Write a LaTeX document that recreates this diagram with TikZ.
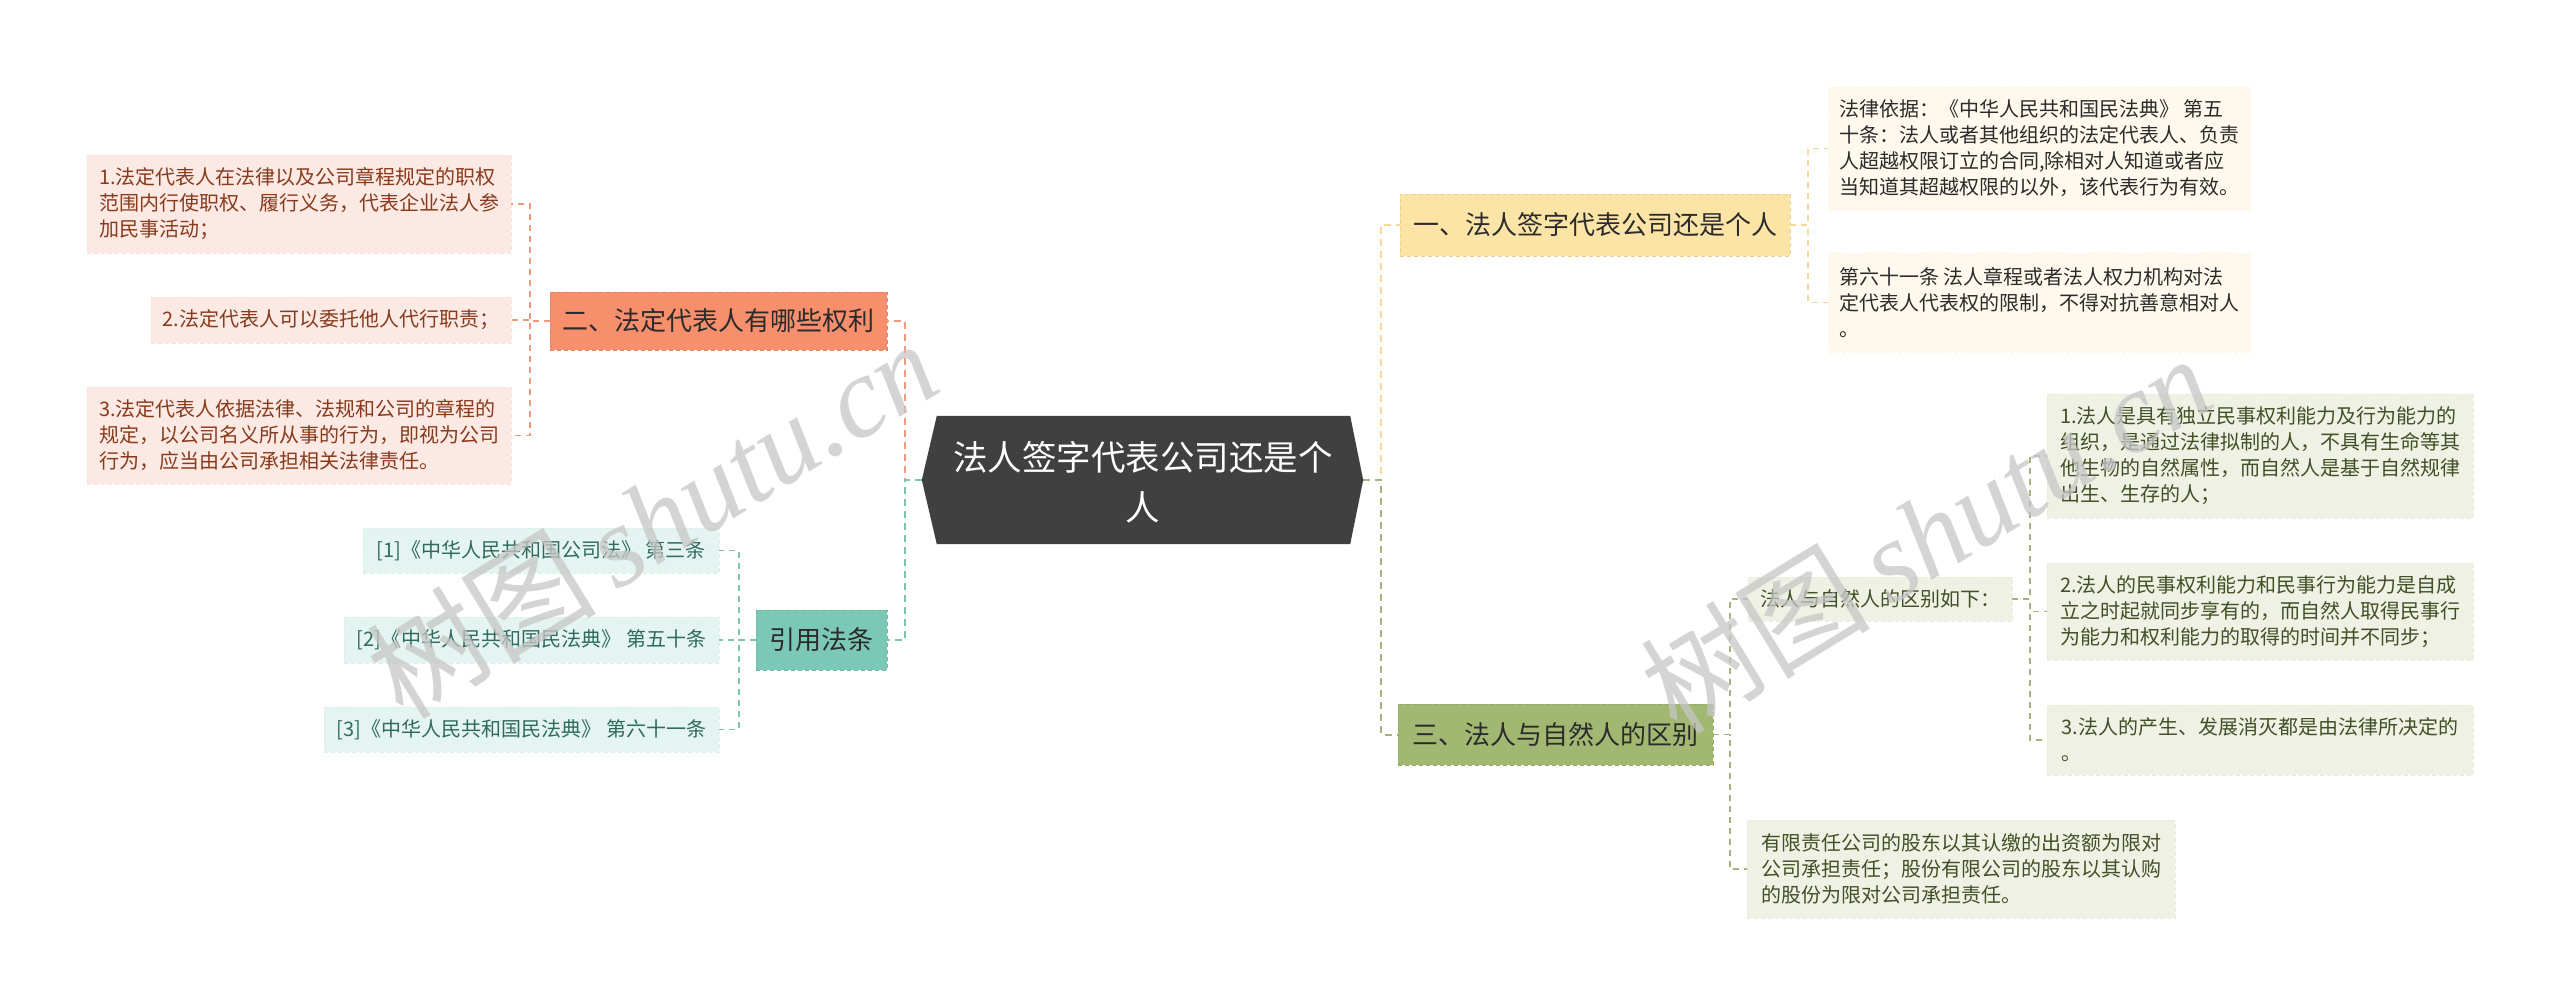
\documentclass[tikz,border=0pt]{standalone}
\usepackage{fontspec}
\setmainfont{Noto Sans CJK SC}
\newfontfamily\wmserif{Liberation Serif}
\definecolor{salmonC}{HTML}{F78E6C}
\definecolor{salmonL}{HTML}{EE9A7E}
\definecolor{pinkF}{HTML}{FDE9E3}
\definecolor{pinkT}{HTML}{873A1C}
\definecolor{tealC}{HTML}{7CC8B6}
\definecolor{tealL}{HTML}{7FC4B3}
\definecolor{tealF}{HTML}{E4F4F0}
\definecolor{tealT}{HTML}{2F6B5B}
\definecolor{yelC}{HTML}{FCE3A6}
\definecolor{yelL}{HTML}{F4D99A}
\definecolor{yelF}{HTML}{FEF9EC}
\definecolor{grnC}{HTML}{A2B872}
\definecolor{grnL}{HTML}{A3B47C}
\definecolor{grnF}{HTML}{EEF1E4}
\definecolor{grnT}{HTML}{434F26}
\definecolor{hexC}{HTML}{404040}
\definecolor{darkT}{HTML}{2B2B2B}
\begin{document}
\begin{tikzpicture}[x=1pt,y=-1pt,
  basebox/.style={inner sep=0pt, align=left, font=\fontsize{20}{26}\selectfont, line width=0.8pt, dash pattern=on 4pt off 3pt},
  mainbox/.style={inner sep=0pt, align=center, font=\fontsize{26}{32}\selectfont, text=darkT, line width=0.8pt, dash pattern=on 4pt off 3pt},
  lbox/.style={basebox, fill=pinkF, draw=pinkF!92!salmonC, text=pinkT},
  rbox/.style={basebox, fill=tealF, draw=tealF!92!tealC, text=tealT},
  ybox/.style={basebox, fill=yelF, draw=yelF!92!yelC, text=darkT},
  gbox/.style={basebox, fill=grnF, draw=grnF!92!grnC, text=grnT},
  mainlink/.style={line width=2pt, dash pattern=on 7pt off 5pt},
  sublink/.style={line width=1.4pt, dash pattern=on 6pt off 5pt},
  wmark/.style={text=gray!45, opacity=0.75, inner sep=0pt}
]
\useasboundingbox (0,0) rectangle (2560,1005);
\fill[white] (0,0) rectangle (2560,1005);

% connectors (main)
\coordinate (cl) at (905,480);
\coordinate (cr) at (1381,480);
\node[minimum width=441, minimum height=128, inner sep=0pt] (hex) at (1142.5,480) {};

\node[mainbox, fill=salmonC, draw=salmonC!92!black, minimum width=337, minimum height=58] (b2) at (718.5,321) {二、法定代表人有哪些权利};
\node[mainbox, fill=tealC, draw=tealC!92!black, minimum width=131, minimum height=60] (b4) at (821.5,640) {引用法条};
\node[mainbox, fill=yelC, draw=yelC!92!black, minimum width=390, minimum height=62] (b1) at (1595,225) {一、法人签字代表公司还是个人};
\node[mainbox, fill=grnC, draw=grnC!92!black, minimum width=315, minimum height=61] (b3) at (1555.5,734.5) {三、法人与自然人的区别};

\draw[mainlink, salmonL] (hex.west) -- (cl) |- (b2.east);
\draw[mainlink, tealL] (hex.west) -- (cl) |- (b4.east);
\draw[mainlink, yelL] (hex.east) -- (cr) |- (b1.west);
\draw[mainlink, grnL] (hex.east) -- (cr) |- (b3.west);

% hexagon
\fill[hexC] (hex.west) -- ([xshift=15pt]hex.north west) -- ([xshift=-13pt]hex.north east) -- (hex.east) -- ([xshift=-13pt]hex.south east) -- ([xshift=15pt]hex.south west) -- cycle;
\node[text=white, align=center, font=\fontsize{34.5}{50}\selectfont, inner sep=0pt] (hextxt) at (1143,482) {法人签字代表公司还是个\\人};

% left top branch
\node[lbox, minimum width=424, minimum height=98] (L1) at (299,204) {1.法定代表人在法律以及公司章程规定的职权\\范围内行使职权、履行义务，代表企业法人参\\加民事活动；};
\node[lbox, minimum width=360, minimum height=46] (L2) at (331,320) {2.法定代表人可以委托他人代行职责；};
\node[lbox, minimum width=424, minimum height=97] (L3) at (299,435.5) {3.法定代表人依据法律、法规和公司的章程的\\规定，以公司名义所从事的行为，即视为公司\\行为，应当由公司承担相关法律责任。};
\coordinate (k2) at (530,321);
\draw[sublink, salmonL] (b2.west) -- (k2) |- (L1.east);
\draw[sublink, salmonL] (b2.west) -- (k2) |- (L2.east);
\draw[sublink, salmonL] (b2.west) -- (k2) |- (L3.east);

% left bottom branch
\node[rbox, minimum width=356, minimum height=45] (R1) at (541,550.5) {[1]《中华人民共和国公司法》 第三条};
\node[rbox, minimum width=375, minimum height=46] (R2) at (531.5,640) {[2]《中华人民共和国民法典》 第五十条};
\node[rbox, minimum width=395, minimum height=45] (R3) at (521.5,729.5) {[3]《中华人民共和国民法典》 第六十一条};
\coordinate (k4) at (739,640);
\draw[sublink, tealL] (b4.west) -- (k4) |- (R1.east);
\draw[sublink, tealL] (b4.west) -- (k4) |- (R2.east);
\draw[sublink, tealL] (b4.west) -- (k4) |- (R3.east);

% right top branch
\node[ybox, minimum width=422, minimum height=123] (Y1) at (2039,148.5) {法律依据：《中华人民共和国民法典》 第五\\十条：法人或者其他组织的法定代表人、负责\\人超越权限订立的合同,除相对人知道或者应\\当知道其超越权限的以外，该代表行为有效。};
\node[ybox, minimum width=422, minimum height=99] (Y2) at (2039,302.5) {第六十一条 法人章程或者法人权力机构对法\\定代表人代表权的限制，不得对抗善意相对人\\。};
\coordinate (k1) at (1808,225);
\draw[sublink, yelL] (b1.east) -- (k1) |- (Y1.west);
\draw[sublink, yelL] (b1.east) -- (k1) |- (Y2.west);

% right bottom branch
\node[gbox, minimum width=264, minimum height=44] (D) at (1880,599) {法人与自然人的区别如下：};
\node[gbox, minimum width=428, minimum height=98] (B) at (1961,869) {有限责任公司的股东以其认缴的出资额为限对\\公司承担责任；股份有限公司的股东以其认购\\的股份为限对公司承担责任。};
\coordinate (k3) at (1730,734.5);
\draw[sublink, grnL] (b3.east) -- (k3) |- (D.west);
\draw[sublink, grnL] (b3.east) -- (k3) |- (B.west);

\node[gbox, minimum width=426, minimum height=124] (G1) at (2260,456) {1.法人是具有独立民事权利能力及行为能力的\\组织，是通过法律拟制的人，不具有生命等其\\他生物的自然属性，而自然人是基于自然规律\\出生、生存的人；};
\node[gbox, minimum width=426, minimum height=97] (G2) at (2260,611.5) {2.法人的民事权利能力和民事行为能力是自成\\立之时起就同步享有的，而自然人取得民事行\\为能力和权利能力的取得的时间并不同步；};
\node[gbox, minimum width=426, minimum height=70] (G3) at (2260,740) {3.法人的产生、发展消灭都是由法律所决定的\\。};
\coordinate (kd) at (2030,599);
\draw[sublink, grnL] (D.east) -- (kd) |- (G1.west);
\draw[sublink, grnL] (D.east) -- (kd) |- (G2.west);
\draw[sublink, grnL] (D.east) -- (kd) |- (G3.west);

% watermarks
\node[wmark, rotate=31.5, font=\fontsize{115}{120}\selectfont] (wm1) at (652,518) {树图\,{\wmserif\itshape shutu.cn}};
\node[wmark, rotate=31.5, font=\fontsize{115}{120}\selectfont] (wm2) at (1926,533) {树图\,{\wmserif\itshape shutu.cn}};
\end{tikzpicture}
\end{document}
